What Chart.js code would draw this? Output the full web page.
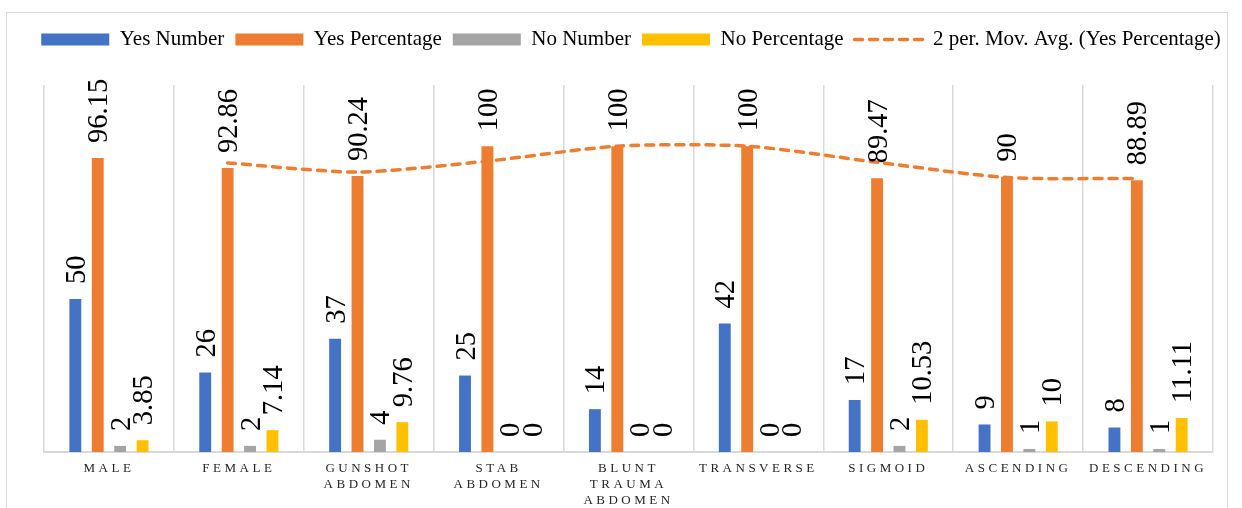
<!DOCTYPE html>
<html>
<head>
<meta charset="utf-8">
<script src="https://cdn.jsdelivr.net/npm/chart.js@4"></script>
<style>
  html, body { margin: 0; padding: 0; background: #fff; }
  #wrap { position: relative; width: 1242px; height: 508px; overflow: hidden; }
  #frame { position: absolute; left: 6px; top: 12px; width: 1220px; height: 520px; border: 1px solid #d9d9d9; }
  canvas { position: absolute; left: 0; top: 0; }
</style>
</head>
<body>
<div id="wrap">
  <div id="frame"></div>
  <canvas id="chart" width="1242" height="508"></canvas>
</div>
<script>
// Data
const categories = [['MALE'], ['FEMALE'], ['GUNSHOT', 'ABDOMEN'], ['STAB', 'ABDOMEN'],
  ['BLUNT', 'TRAUMA', 'ABDOMEN'], ['TRANSVERSE'], ['SIGMOID'], ['ASCENDING'], ['DESCENDING']];
const yesNumber = [50, 26, 37, 25, 14, 42, 17, 9, 8];
const yesPercentage = [96.15, 92.86, 90.24, 100, 100, 100, 89.47, 90, 88.89];
const noNumber = [2, 2, 4, 0, 0, 0, 2, 1, 1];
const noPercentage = [3.85, 7.14, 9.76, 0, 0, 0, 10.53, 10, 11.11];
const movAvg = [null, 94.51, 91.55, 95.12, 100, 100, 94.74, 89.74, 89.45];

const serif = '"Liberation Serif", "Times New Roman", serif';
const trendDash = [8, 7];

// rotated value labels above each bar
const valueLabels = {
  id: 'valueLabels',
  afterDatasetsDraw(chart) {
    const ctx = chart.ctx;
    ctx.save();
    ctx.font = '28.5px ' + serif;
    ctx.fillStyle = '#000';
    ctx.textAlign = 'left';
    ctx.textBaseline = 'alphabetic';
    chart.data.datasets.forEach((ds, di) => {
      if (ds.type === 'line') return;
      chart.getDatasetMeta(di).data.forEach((bar, i) => {
        ctx.save();
        ctx.translate(bar.x + 9.5, bar.y - 15);
        ctx.rotate(-Math.PI / 2);
        ctx.fillText(String(ds.data[i]), 0, 0);
        ctx.restore();
      });
    });
    ctx.restore();
  }
};

// moving average trendline sits on the Yes Percentage bars
const alignTrend = {
  id: 'alignTrend',
  afterDatasetsUpdate(chart) {
    const bars = chart.getDatasetMeta(1).data;
    chart.getDatasetMeta(4).data.forEach((p, i) => { p.x = bars[i].x; });
  }
};

// letter spaced category labels
const spacedTicks = {
  id: 'spacedTicks',
  beforeDraw(chart) {
    const sc = chart.scales.x;
    if (sc._spaced) return;
    const orig = sc.drawLabels;
    sc.drawLabels = function (area) {
      this.ctx.save();
      this.ctx.letterSpacing = '3.5px';
      orig.call(this, area);
      this.ctx.restore();
    };
    sc._spaced = true;
  }
};

// extra room under the legend
const legendGap = {
  id: 'legendGap',
  beforeInit(chart) {
    const fit = chart.legend.fit;
    chart.legend.fit = function () { fit.call(this); this.height += 25; };
  }
};

const chart = new Chart(document.getElementById('chart'), {
  type: 'bar',
  data: {
    labels: categories,
    datasets: [
      { label: 'Yes Number', data: yesNumber, backgroundColor: '#4472C4', pointStyle: 'rect' },
      { label: 'Yes Percentage', data: yesPercentage, backgroundColor: '#ED7D31', pointStyle: 'rect' },
      { label: 'No Number', data: noNumber, backgroundColor: '#A5A5A5', pointStyle: 'rect' },
      { label: 'No Percentage', data: noPercentage, backgroundColor: '#FFC000', pointStyle: 'rect' },
      {
        type: 'line', label: '2 per. Mov. Avg. (Yes Percentage)', data: movAvg,
        borderColor: '#ED7D31', backgroundColor: '#ED7D31', borderWidth: 3.5,
        borderDash: trendDash, borderCapStyle: 'round', tension: 0.25,
        pointRadius: 0, pointStyle: 'line', fill: false
      }
    ]
  },
  options: {
    responsive: false,
    animation: false,
    categoryPercentage: 0.69,
    barPercentage: 0.53,
    layout: { padding: { left: 20, right: 0, top: 18, bottom: 0 } },
    plugins: {
      legend: {
        position: 'top',
        labels: {
          usePointStyle: true,
          pointStyleWidth: 68,
          boxHeight: 12,
          padding: 11,
          color: '#000',
          font: { family: serif, size: 21 },
          generateLabels(chart) {
            const items = Chart.defaults.plugins.legend.labels.generateLabels(chart);
            items.forEach(it => {
              const ds = chart.data.datasets[it.datasetIndex];
              if (ds.type === 'line') {
                it.pointStyle = 'line';
                it.strokeStyle = ds.borderColor;
                it.lineWidth = ds.borderWidth;
                it.lineDash = trendDash;
                it.lineCap = 'round';
              } else {
                it.pointStyle = 'rect';
                it.lineWidth = 0;
              }
            });
            return items;
          }
        }
      },
      tooltip: { enabled: false }
    },
    scales: {
      x: {
        grid: { color: '#d9d9d9', lineWidth: 1.5, offset: true, drawTicks: false },
        border: { color: '#d9d9d9', width: 2 },
        ticks: {
          color: '#262626', padding: 9, autoSkip: false, maxRotation: 0, minRotation: 0,
          font: { family: serif, size: 13, lineHeight: 1.23 }
        },
        afterFit(s) { s.height = 56; }
      },
      y: {
        min: 0, max: 120,
        grid: { display: false }, border: { display: false }, ticks: { display: false },
        afterFit(s) { s.width = 24; }
      },
      yRight: {
        position: 'right', min: 0, max: 120,
        grid: { display: false }, border: { display: false }, ticks: { display: false },
        afterFit(s) { s.width = 29; }
      }
    }
  },
  plugins: [valueLabels, alignTrend, spacedTicks, legendGap]
});
</script>
</body>
</html>
